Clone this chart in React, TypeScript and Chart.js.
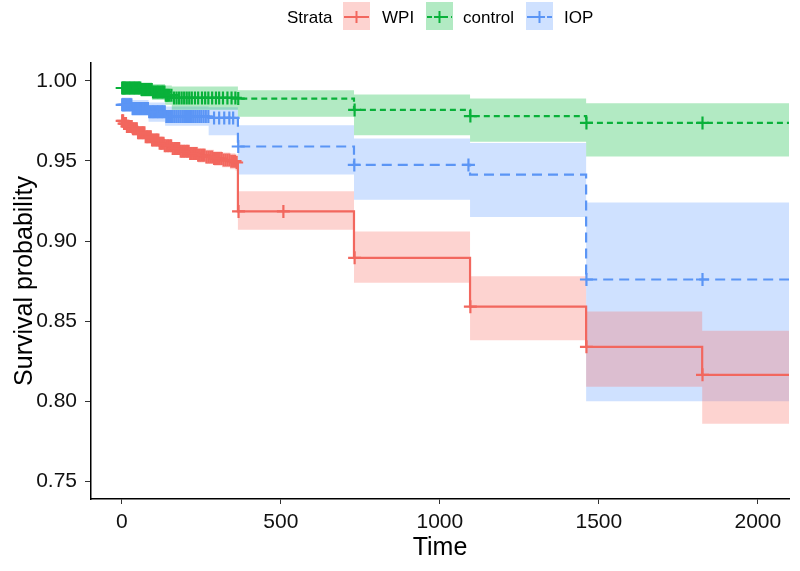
import React, { useEffect, useRef } from "react";
import { Chart, registerables } from "chart.js";
Chart.register(...registerables);

// ---------- data ----------
const strata = ["WPI", "control", "IOP"];
const xTicks = [0, 500, 1000, 1500, 2000];
const yTicks = [0.75, 0.8, 0.85, 0.9, 0.95, 1.0];

const wpiTime = [0, 5, 15, 33, 50, 74, 95, 116, 135, 158, 185, 211, 240, 263, 290, 315, 340, 357, 365, 730, 1095, 1460, 1825, 2100];
const wpiSurv = [0.975, 0.9733, 0.9715, 0.97, 0.9675, 0.965, 0.963, 0.961, 0.9595, 0.9578, 0.956, 0.9546, 0.9535, 0.9525, 0.9515, 0.9505, 0.9498, 0.949, 0.9185, 0.8895, 0.859, 0.834, 0.8165, 0.8165];
const wpiUpper = [0.9775, 0.976, 0.9745, 0.973, 0.9705, 0.968, 0.966, 0.9645, 0.963, 0.9615, 0.96, 0.9588, 0.958, 0.957, 0.956, 0.9553, 0.9548, 0.954, 0.931, 0.906, 0.878, 0.856, 0.844, 0.844];
const wpiLower = [0.9725, 0.9705, 0.9685, 0.967, 0.9645, 0.962, 0.96, 0.9575, 0.956, 0.954, 0.952, 0.9505, 0.949, 0.948, 0.947, 0.946, 0.9448, 0.944, 0.907, 0.874, 0.838, 0.809, 0.786, 0.786];
const wpiCensor = [1, 4, 7, 10, 13, 16, 19, 23, 27, 31, 35, 39, 43, 47, 51, 55, 59, 63, 67, 71, 75, 79, 83, 87, 91, 95, 99, 103, 107, 111, 115, 119, 123, 127, 131, 135, 140, 145, 150, 155, 160, 165, 170, 175, 180, 185, 190, 195, 200, 205, 210, 215, 220, 225, 230, 235, 240, 245, 250, 255, 260, 266, 272, 278, 284, 290, 296, 302, 308, 314, 320, 326, 332, 338, 344, 350, 356, 361, 367, 508, 732, 1096, 1461, 1826];

const ctlTime = [0, 60, 95, 136, 157, 365, 730, 1095, 1460, 2100];
const ctlSurv = [0.9955, 0.9945, 0.993, 0.991, 0.9893, 0.9889, 0.9818, 0.978, 0.9737, 0.9737];
const ctlUpper = [0.9995, 0.999, 0.998, 0.997, 0.9965, 0.9941, 0.9915, 0.989, 0.986, 0.986];
const ctlLower = [0.9915, 0.99, 0.988, 0.985, 0.982, 0.9775, 0.966, 0.962, 0.9528, 0.9528];
const ctlCensor = [1, 4, 7, 10, 14, 18, 22, 26, 30, 34, 38, 42, 46, 50, 54, 58, 62, 66, 70, 74, 78, 82, 86, 90, 94, 98, 102, 106, 110, 114, 118, 122, 126, 130, 134, 138, 142, 146, 150, 156, 164, 172, 180, 188, 196, 204, 212, 220, 230, 240, 252, 262, 272, 284, 296, 306, 318, 332, 345, 357, 366, 732, 1096, 1461, 1826];

const iopTime = [0, 31, 84, 136, 273, 365, 730, 1095, 1460, 2100];
const iopSurv = [0.985, 0.9827, 0.9806, 0.9777, 0.9768, 0.959, 0.9475, 0.9414, 0.876, 0.876];
const iopUpper = [0.9895, 0.988, 0.9865, 0.984, 0.9835, 0.9722, 0.964, 0.9612, 0.924, 0.924];
const iopLower = [0.9805, 0.978, 0.9745, 0.972, 0.966, 0.9415, 0.9258, 0.915, 0.8, 0.8];
const iopCensor = [1, 4, 7, 10, 14, 18, 22, 26, 30, 34, 38, 42, 46, 50, 54, 58, 62, 66, 70, 74, 78, 82, 86, 90, 94, 98, 102, 106, 110, 114, 118, 122, 126, 130, 135, 140, 145, 150, 155, 160, 166, 172, 178, 184, 190, 196, 202, 208, 214, 220, 226, 232, 238, 244, 250, 257, 264, 272, 290, 306, 322, 338, 350, 366, 731, 1090, 1461, 1826];

const colors = ["#F2675E", "#09B13A", "#5B95F5"];
const fills = ["rgba(248,118,109,0.32)", "rgba(0,186,56,0.3)", "rgba(97,156,255,0.3)"];

// ---------- helpers ----------
const survAt = (times: number[], surv: number[], t: number) => {
  let v = surv[0];
  for (let i = 0; i < times.length; i++) if (times[i] <= t) v = surv[i];
  return v;
};
const pts = (times: number[], vals: number[]) => times.map((t, i) => ({ x: t, y: vals[i] }));

const FONT = "'Liberation Sans', Arial, Helvetica, sans-serif";

const groups = [
  { time: wpiTime, surv: wpiSurv, up: wpiUpper, lo: wpiLower, cens: wpiCensor, dash: [] as number[] },
  { time: ctlTime, surv: ctlSurv, up: ctlUpper, lo: ctlLower, cens: ctlCensor, dash: [6, 4] },
  { time: iopTime, surv: iopSurv, up: iopUpper, lo: iopLower, cens: iopCensor, dash: [10, 6] },
];

function LegendIcon({ i }: { i: number }) {
  const c = colors[i];
  const dash = i === 0 ? undefined : i === 1 ? "5 3" : "8 2";
  return (
    <svg width={27} height={28} style={{ position: "absolute", left: 0, top: 0 }}>
      <rect x={0} y={0} width={27} height={28} fill={fills[i]} />
      <line x1={1} y1={15} x2={26} y2={15} stroke={c} strokeWidth={2} strokeDasharray={dash} />
      <line x1={8} y1={15} x2={19} y2={15} stroke={c} strokeWidth={2} />
      <line x1={13.5} y1={9} x2={13.5} y2={21} stroke={c} strokeWidth={2} />
    </svg>
  );
}

export default function App() {
  const ref = useRef<HTMLCanvasElement | null>(null);

  useEffect(() => {
    if (!ref.current) return;
    const datasets: any[] = [];
    // lines (drawn on top)
    groups.forEach((g, i) => {
      datasets.push({
        label: strata[i],
        data: pts(g.time, g.surv),
        stepped: "before",
        borderColor: colors[i],
        borderWidth: 2.2,
        borderDash: g.dash,
        pointRadius: 0,
        fill: false,
      });
    });
    // censor marks
    groups.forEach((g, i) => {
      datasets.push({
        label: strata[i] + " censor",
        data: g.cens.map((t) => ({ x: t, y: survAt(g.time, g.surv, t) })),
        showLine: false,
        pointStyle: "cross",
        pointRadius: 6.5,
        pointBorderWidth: 2.2,
        pointBorderColor: colors[i],
        pointBackgroundColor: colors[i],
        fill: false,
      });
    });
    // confidence bands
    groups.forEach((g, i) => {
      datasets.push({
        label: strata[i] + " upper",
        data: pts(g.time, g.up),
        stepped: "before",
        borderWidth: 0,
        borderColor: "rgba(0,0,0,0)",
        pointRadius: 0,
        backgroundColor: fills[i],
        fill: "+1",
      });
      datasets.push({
        label: strata[i] + " lower",
        data: pts(g.time, g.lo),
        stepped: "before",
        borderWidth: 0,
        borderColor: "rgba(0,0,0,0)",
        pointRadius: 0,
        fill: false,
      });
    });

    const chart = new Chart(ref.current, {
      type: "line",
      data: { datasets },
      options: {
        animation: false,
        responsive: false,
        devicePixelRatio: 1,
        layout: { padding: { top: 63, right: 11, left: 0, bottom: 0 } },
        plugins: {
          legend: { display: false },
          tooltip: { enabled: false },
          filler: { propagate: false, drawTime: "beforeDatasetsDraw" },
        },
        scales: {
          x: {
            type: "linear",
            min: -97,
            max: 2098,
            afterBuildTicks: (axis: any) => {
              axis.ticks = xTicks.map((v) => ({ value: v }));
            },
            afterFit: (s: any) => {
              s.height = 72;
            },
            ticks: {
              font: { family: FONT, size: 21 },
              color: "#111",
              padding: 6,
              maxRotation: 0,
              callback: (v: any) => String(v),
            },
            grid: { drawOnChartArea: false, drawTicks: true, tickLength: 5, color: "#333", lineWidth: 1 },
            border: { display: true, color: "#000", width: 1.5 },
            title: {
              display: true,
              text: "Time",
              font: { family: FONT, size: 25 },
              color: "#000",
              padding: { top: 0, bottom: 8 },
            },
          },
          y: {
            type: "linear",
            min: 0.739,
            max: 1.0111,
            afterBuildTicks: (axis: any) => {
              axis.ticks = yTicks.map((v) => ({ value: v }));
            },
            afterFit: (s: any) => {
              s.width = 91;
            },
            ticks: {
              font: { family: FONT, size: 21 },
              color: "#111",
              padding: 8,
              callback: (v: any) => Number(v).toFixed(2),
            },
            grid: { drawOnChartArea: false, drawTicks: true, tickLength: 6, color: "#333", lineWidth: 1 },
            border: { display: true, color: "#000", width: 1.5 },
            title: {
              display: true,
              text: "Survival probability",
              font: { family: FONT, size: 25 },
              color: "#000",
              padding: { top: 10, bottom: 0 },
            },
          },
        },
      },
    });
    return () => chart.destroy();
  }, []);

  const textStyle: React.CSSProperties = {
    position: "absolute",
    top: 2,
    lineHeight: "32px",
    fontFamily: FONT,
    fontSize: 17,
    color: "#000",
    whiteSpace: "nowrap",
  };

  return (
    <div style={{ position: "absolute", left: 0, top: 0, width: 800, height: 571, background: "#fff" }}>
      <canvas ref={ref} width={800} height={571} style={{ width: 800, height: 571, display: "block" }} />
      <div style={{ position: "absolute", left: 0, top: 0, width: 800, height: 40 }}>
        <span style={{ ...textStyle, left: 287 }}>Strata</span>
        <div style={{ position: "absolute", left: 343, top: 2, width: 27, height: 28 }}>
          <LegendIcon i={0} />
        </div>
        <span style={{ ...textStyle, left: 382 }}>{strata[0]}</span>
        <div style={{ position: "absolute", left: 426, top: 2, width: 27, height: 28 }}>
          <LegendIcon i={1} />
        </div>
        <span style={{ ...textStyle, left: 463 }}>{strata[1]}</span>
        <div style={{ position: "absolute", left: 526, top: 2, width: 27, height: 28 }}>
          <LegendIcon i={2} />
        </div>
        <span style={{ ...textStyle, left: 564 }}>{strata[2]}</span>
      </div>
    </div>
  );
}
